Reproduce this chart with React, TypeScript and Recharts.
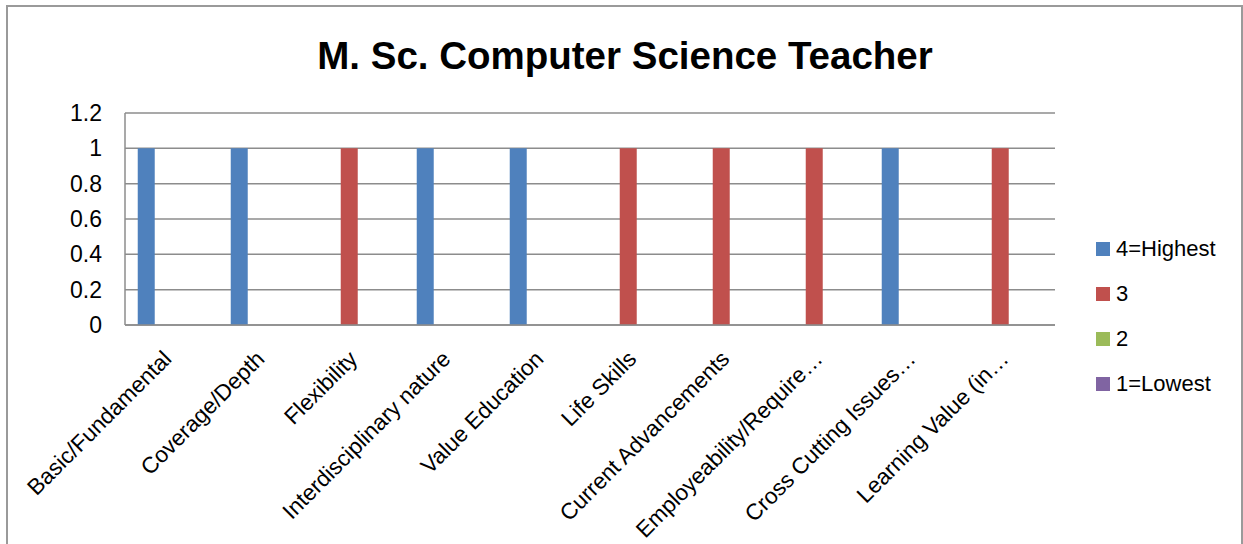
import React from 'react'
import { BarChart, Bar, XAxis, YAxis, CartesianGrid, Legend } from 'recharts'

const categories = [
  'Basic/Fundamental',
  'Coverage/Depth',
  'Flexibility',
  'Interdisciplinary nature',
  'Value Education',
  'Life Skills',
  'Current Advancements',
  'Employeability/Require…',
  'Cross Cutting Issues…',
  'Learning Value (in…',
]

const seriesNames = ['4=Highest', '3', '2', '1=Lowest']
const seriesColors = ['#4F81BD', '#C0504D', '#9BBB59', '#8064A2']

const highest = [1, 1, 0, 1, 1, 0, 0, 0, 1, 0]
const three = [0, 0, 1, 0, 0, 1, 1, 1, 0, 1]
const two = [0, 0, 0, 0, 0, 0, 0, 0, 0, 0]
const lowest = [0, 0, 0, 0, 0, 0, 0, 0, 0, 0]

const yTicks = [0, 0.2, 0.4, 0.6, 0.8, 1, 1.2]

const seriesValues = [highest, three, two, lowest]
const keys = ['s4', 's3', 's2', 's1']

const data = categories.map((name, i) => {
  const row: { [key: string]: string | number } = { name }
  keys.forEach((k, j) => {
    row[k] = seriesValues[j][i]
  })
  return row
})

const FONT = '"Liberation Sans", Arial, sans-serif'
const GRID = '#8c8c8c'

const AngledTick = (props: any) => {
  const { x, y, payload } = props
  return (
    <g transform={`translate(${x - 10},${y + 22})`}>
      <text
        transform="rotate(-45)"
        textAnchor="end"
        dy={16}
        fontSize={22.5}
        fontFamily={FONT}
        fill="#000"
      >
        {payload.value}
      </text>
    </g>
  )
}

const LegendBox = () => (
  <div style={{ fontFamily: FONT, fontSize: 22, color: '#000' }}>
    {seriesNames.map((n, i) => (
      <div key={n} style={{ display: 'flex', alignItems: 'center', height: 45 }}>
        <span
          style={{
            display: 'inline-block',
            width: 14,
            height: 14,
            background: seriesColors[i],
            marginRight: 6,
          }}
        />
        <span>{n}</span>
      </div>
    ))}
  </div>
)

export default function App() {
  return (
    <div
      style={{
        position: 'fixed',
        left: 0,
        top: 0,
        width: 1243,
        height: 544,
        overflow: 'hidden',
        background: '#fff',
      }}
    >
      <div
        style={{
          position: 'absolute',
          left: 6,
          top: 5,
          width: 1237,
          height: 600,
          boxSizing: 'border-box',
          border: '2px solid #9a9a9a',
        }}
      />
      <div
        style={{
          position: 'absolute',
          left: 0,
          top: 36,
          width: 1250,
          textAlign: 'center',
          fontFamily: FONT,
          fontWeight: 'bold',
          fontSize: 38.5,
          lineHeight: '40px',
          color: '#000',
        }}
      >
        M. Sc. Computer Science Teacher
      </div>
      <div style={{ position: 'absolute', left: 0, top: 0 }}>
        <BarChart
          width={1243}
          height={544}
          data={data}
          margin={{ top: 113, right: 38, bottom: 159, left: 65 }}
          barCategoryGap="13.7%"
          barGap={0}
        >
          <CartesianGrid vertical={false} stroke={GRID} strokeWidth={1.5} />
          <XAxis
            dataKey="name"
            height={60}
            interval={0}
            tickLine={false}
            tickSize={0}
            axisLine={{ stroke: GRID, strokeWidth: 1.5 }}
            tick={<AngledTick />}
          />
          <YAxis
            width={60}
            domain={[0, 1.2]}
            ticks={yTicks}
            interval={0}
            tickLine={false}
            tickSize={0}
            tickMargin={23}
            axisLine={{ stroke: GRID, strokeWidth: 1.5 }}
            tick={{ fontSize: 23, fontFamily: FONT, fill: '#000' }}
          />
          <Legend
            layout="vertical"
            align="right"
            verticalAlign="top"
            wrapperStyle={{ top: 226, left: 1096, width: 150 }}
            content={<LegendBox />}
          />
          {keys.map((k, j) => (
            <Bar
              key={k}
              dataKey={k}
              name={seriesNames[j]}
              fill={seriesColors[j]}
              isAnimationActive={false}
            />
          ))}
        </BarChart>
      </div>
    </div>
  )
}
